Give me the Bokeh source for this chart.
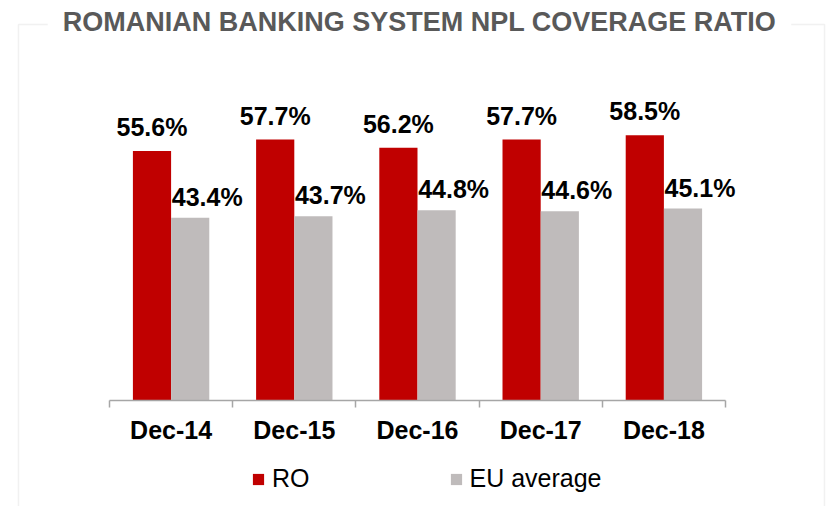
from bokeh.plotting import figure
from bokeh.models import Range1d, FixedTicker, Span, Label, LabelSet, ColumnDataSource, BoxAnnotation
from bokeh.core.properties import value
from bokeh.embed import file_html
from bokeh.resources import INLINE

# ---- data ----
categories = ["Dec-14", "Dec-15", "Dec-16", "Dec-17", "Dec-18"]
ro_values = [55.6, 57.7, 56.2, 57.7, 58.5]
eu_values = [43.4, 43.7, 44.8, 44.6, 45.1]
series_names = ["RO", "EU average"]
chart_title = "ROMANIAN BANKING SYSTEM NPL COVERAGE RATIO"

# ---- styling / layout ----
RED = "#C00000"
GREY = "#BFBBBB"
FRAME_GREY = "#D0D0D0"
AXIS_GREY = "#A6A6A6"
FONT = "Liberation Sans"
axis_min = 10
bar_w = 0.31

x_start, x_end = -0.8847, 5.8279
y_start, y_end = -9.38, 83.13
box_left, box_right, box_top = -0.7386, 5.8036, 78.74

p = figure(width=827, height=506, output_backend="svg", toolbar_location=None,
           x_range=Range1d(x_start, x_end), y_range=Range1d(y_start, y_end),
           y_axis_type=None, min_border_left=0, min_border_right=0,
           min_border_top=0, min_border_bottom=0)
p.outline_line_color = None
p.background_fill_color = "white"
p.border_fill_color = "white"
p.grid.visible = False

n = len(categories)
centers = [i + 0.5 for i in range(n)]
boundaries = [float(i) for i in range(n + 1)]
ro_x = [c - bar_w / 2 for c in centers]
eu_x = [c + bar_w / 2 for c in centers]

src = ColumnDataSource(dict(
    ro_x=ro_x, eu_x=eu_x, ro=ro_values, eu=eu_values,
    ro_txt=[f"{v:.1f}%" for v in ro_values],
    eu_txt=[f"{v:.1f}%" for v in eu_values],
))

# surrounding frame (open at the bottom, interrupted by the title)
p.add_layout(BoxAnnotation(left=box_left, right=box_right, top=box_top, bottom=y_start - 20,
                           fill_alpha=0, line_color=FRAME_GREY, line_width=1.5))

p.vbar(x="ro_x", top="ro", bottom=axis_min, width=bar_w, source=src,
       fill_color=RED, line_color=None, legend_label=series_names[0])
p.vbar(x="eu_x", top="eu", bottom=axis_min, width=bar_w, source=src,
       fill_color=GREY, line_color=None, legend_label=series_names[1])

p.add_layout(LabelSet(x="ro_x", y="ro", text="ro_txt", source=src,
                      text_align="center", text_baseline="alphabetic", y_offset=15,
                      text_font=value(FONT), text_font_style="bold",
                      text_font_size="25px", text_color="black"))
p.add_layout(LabelSet(x="eu_x", y="eu", text="eu_txt", source=src,
                      text_align="center", text_baseline="alphabetic",
                      x_offset=17, y_offset=12,
                      text_font=value(FONT), text_font_style="bold",
                      text_font_size="25px", text_color="black"))

# title over the top frame line
p.add_layout(Label(x=2.516, y=box_top, text=chart_title,
                   text_align="center", text_baseline="middle", y_offset=3,
                   text_font=FONT, text_font_style="bold", text_font_size="27px",
                   text_color="#595959", background_fill_color="white", padding=15))

# x axis
ax = p.xaxis[0]
ax.fixed_location = axis_min
ax.bounds = (0, n)
ax.ticker = FixedTicker(ticks=centers, minor_ticks=boundaries)
ax.major_label_overrides = {c: cat for c, cat in zip(centers, categories)}
ax.major_tick_line_color = None
ax.major_tick_out = 0
ax.major_tick_in = 0
ax.minor_tick_line_color = AXIS_GREY
ax.minor_tick_line_width = 1.5
ax.minor_tick_out = 7
ax.minor_tick_in = 0
ax.axis_line_color = AXIS_GREY
ax.axis_line_width = 1.5
ax.major_label_standoff = 9
ax.major_label_text_font = FONT
ax.major_label_text_font_style = "bold"
ax.major_label_text_font_size = "25px"
ax.major_label_text_color = "black"

leg = p.legend[0]
leg.orientation = "horizontal"
leg.location = (251, 13)
leg.padding = 0
leg.margin = 0
leg.spacing = 139
leg.glyph_width = 14
leg.glyph_height = 14
leg.label_standoff = 7
leg.label_text_font = FONT
leg.label_text_font_size = "25px"
leg.label_text_color = "black"
leg.border_line_color = None
leg.background_fill_alpha = 0

open("out.html", "w").write(file_html(p, INLINE))
